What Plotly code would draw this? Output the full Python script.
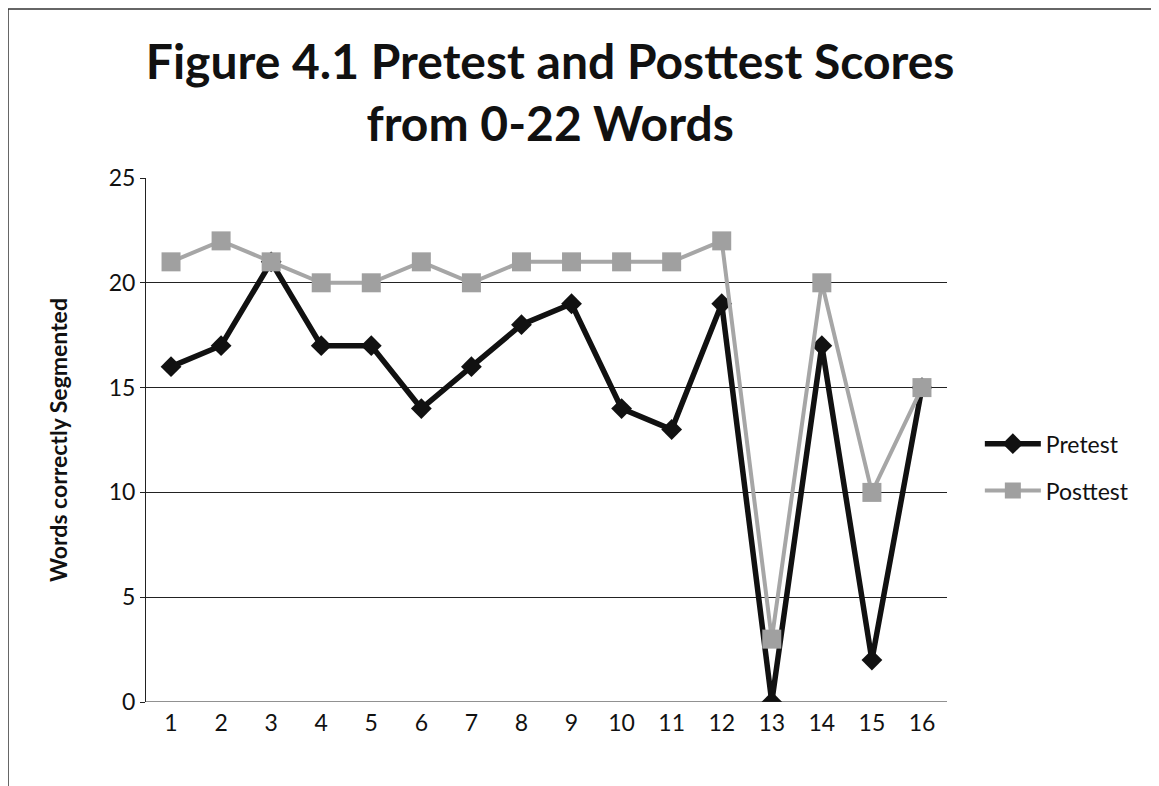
import plotly.graph_objects as go

categories = [str(i) for i in range(1, 17)]
pretest = [16, 17, 21, 17, 17, 14, 16, 18, 19, 14, 13, 19, 0, 17, 2, 15]
posttest = [21, 22, 21, 20, 20, 21, 20, 21, 21, 21, 21, 22, 3, 20, 10, 15]
y_ticks = [0, 5, 10, 15, 20, 25]

FONT = "Lato"

fig = go.Figure()
fig.add_trace(go.Scatter(
    x=categories, y=pretest, name="Pretest", mode="lines+markers",
    legendgroup="a",
    line=dict(color="#111111", width=5.5),
    marker=dict(symbol="diamond", size=16, color="#111111"),
))
fig.add_trace(go.Scatter(
    x=categories, y=posttest, name="Posttest", mode="lines+markers",
    legendgroup="b",
    line=dict(color="#a6a6a6", width=4),
    marker=dict(symbol="square", size=19, color="#a0a0a0"),
))

fig.update_layout(
    width=1151, height=778,
    margin=dict(l=138, r=212, t=170, b=84),
    paper_bgcolor="white", plot_bgcolor="white",
    font=dict(family=FONT, color="#111111"),
    title=dict(
        text="<b>Figure 4.1 Pretest and Posttest Scores<br>from 0-22 Words</b>",
        x=0.471, xanchor="center", y=0.909, yanchor="middle",
        font=dict(family=FONT, size=48, color="#111111"),
    ),
    showlegend=True,
    legend=dict(
        x=1.041, xanchor="left", y=0.448, yanchor="middle",
        font=dict(family=FONT, size=23, color="#111111"),
        bgcolor="rgba(0,0,0,0)", itemwidth=56, tracegroupgap=14,
        traceorder="grouped",
    ),
    xaxis=dict(
        type="category", showgrid=False, showline=False, ticks="",
        tickfont=dict(family=FONT, size=23), range=[-0.5, 15.5],
        ticklabelstandoff=5,
    ),
    yaxis=dict(
        range=[0, 25], tickvals=y_ticks, showgrid=True, gridcolor="#222222",
        gridwidth=1, showline=True, linecolor="#222222", linewidth=1,
        ticks="outside", ticklen=5, tickcolor="#222222", zeroline=False,
        tickfont=dict(family=FONT, size=23),
        title=dict(text="<b>Words correctly Segmented</b>",
                   font=dict(family=FONT, size=23), standoff=34),
    ),
)
fig.add_hline(y=0, line=dict(color="#222222", width=1))

# outer chart frame (left and top edges visible)
fig.add_shape(type="line", xref="paper", yref="paper",
              x0=-138/801, x1=-138/801, y0=-1.0, y1=(702-9)/524,
              line=dict(color="#333333", width=1.5))
fig.add_shape(type="line", xref="paper", yref="paper",
              x0=-138/801, x1=1.3, y0=(702-9)/524, y1=(702-9)/524,
              line=dict(color="#333333", width=1.5))

fig.write_html("out.html")
